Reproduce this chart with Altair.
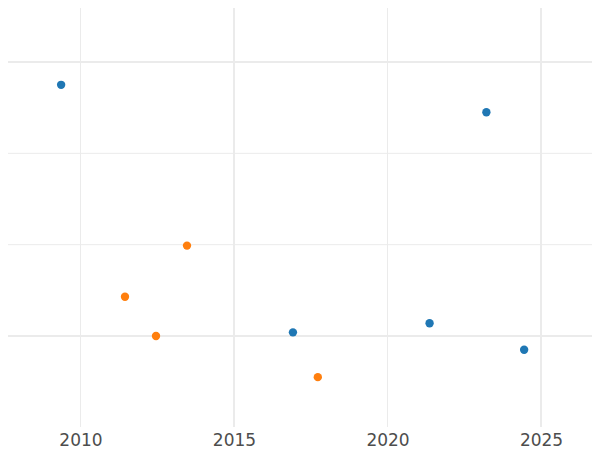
import altair as alt
import pandas as pd

# data
blue_year = [2009.37, 2023.22, 2016.92, 2021.37, 2024.45]
blue_val = [2.75, 2.45, 0.04, 0.14, -0.15]
orange_year = [2011.45, 2012.46, 2013.47, 2017.73]
orange_val = [0.43, 0.0, 0.99, -0.45]
series_colors = ["#1f77b4", "#ff7f0e"]
x_ticks = [2010, 2015, 2020, 2025]
x_major = [2015, 2025]
x_minor = [2010, 2020]
y_major = [0, 3]
y_minor = [1, 2]

pts = pd.DataFrame({
    "year": blue_year + orange_year,
    "value": blue_val + orange_val,
    "group": ["a"] * len(blue_year) + ["b"] * len(orange_year),
})

xs = alt.Scale(domain=[2007.64, 2026.66], nice=False, zero=False)
ys = alt.Scale(domain=[-0.996, 3.591], nice=False, zero=False)

xaxis = alt.Axis(values=x_ticks, format="d", grid=False, domain=False, ticks=False,
                 labelFontSize=17, labelColor="#4d4d4d", labelFont="DejaVu Sans",
                 labelPadding=5, title=None)

vmaj = alt.Chart(pd.DataFrame({"x": x_major})).mark_rule(color="#ebebeb", strokeWidth=2).encode(
    x=alt.X("x:Q", scale=xs, axis=xaxis))
vmin = alt.Chart(pd.DataFrame({"x": x_minor})).mark_rule(color="#ebebeb", strokeWidth=1).encode(
    x=alt.X("x:Q", scale=xs))
hmaj = alt.Chart(pd.DataFrame({"y": y_major})).mark_rule(color="#ebebeb", strokeWidth=2).encode(
    y=alt.Y("y:Q", scale=ys, axis=None))
hmin = alt.Chart(pd.DataFrame({"y": y_minor})).mark_rule(color="#ebebeb", strokeWidth=1).encode(
    y=alt.Y("y:Q", scale=ys, axis=None))

points = alt.Chart(pts).mark_circle(size=70, opacity=1).encode(
    x=alt.X("year:Q", scale=xs),
    y=alt.Y("value:Q", scale=ys),
    color=alt.Color("group:N", scale=alt.Scale(domain=["a", "b"], range=series_colors), legend=None),
)

chart = alt.layer(hmin, hmaj, vmin, vmaj, points).properties(
    width=584, height=419,
    autosize=alt.AutoSizeParams(type="none"),
    padding={"left": 0, "top": 0, "right": 0, "bottom": 24},
).configure_view(stroke=None)

chart.save("out.html", embed_options={"renderer": "svg", "actions": False})
